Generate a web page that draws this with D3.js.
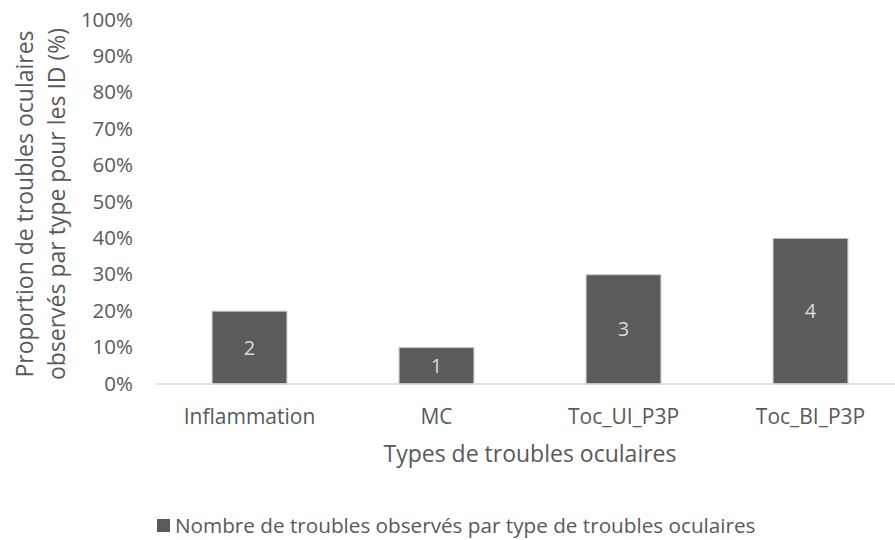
<!DOCTYPE html>
<html>
<head>
<meta charset="utf-8">
<script src="https://cdn.jsdelivr.net/npm/d3@7"></script>
<style>
  body { margin: 0; background: #fff; }
  text { font-family: "Open Sans", sans-serif; }
</style>
</head>
<body>
<div id="chart"></div>
<script>
// chart data
var categories = ["Inflammation", "MC", "Toc_UI_P3P", "Toc_BI_P3P"];
var percents = [20, 10, 30, 40];
var counts = [2, 1, 3, 4];
var yTicks = [0, 10, 20, 30, 40, 50, 60, 70, 80, 90, 100];

var w = 895, h = 540;
var plotLeft = 156, plotRight = 904, plotTop = 20, plotBottom = 384;

var svg = d3.select("#chart").append("svg")
  .attr("width", w)
  .attr("height", h);

var x = d3.scaleBand()
  .domain(categories)
  .range([plotLeft, plotRight])
  .paddingInner(0.6)
  .paddingOuter(0.3);

var y = d3.scaleLinear()
  .domain([0, 100])
  .range([plotBottom, plotTop]);

// y axis labels (no line)
var yAxis = svg.append("g")
  .attr("transform", "translate(" + (plotLeft - 23) + ",0)")
  .call(d3.axisLeft(y).tickValues(yTicks).tickSize(0).tickPadding(0)
    .tickFormat(function(d) { return d + "%"; }));
yAxis.select(".domain").remove();
yAxis.selectAll("text")
  .attr("font-size", 20.5)
  .attr("font-family", "Open Sans")
  .attr("fill", "#595959")
  .attr("dy", "0.3em");

// bars
var rows = categories.map(function(c, i) {
  return { cat: c, pct: percents[i], n: counts[i] };
});

svg.selectAll("rect.bar")
  .data(rows)
  .enter()
  .append("rect")
  .attr("class", "bar")
  .attr("x", function(d) { return x(d.cat); })
  .attr("y", function(d) { return y(d.pct); })
  .attr("width", x.bandwidth())
  .attr("height", function(d) { return y(0) - y(d.pct); })
  .attr("fill", "#5b5b5b")
  .attr("stroke", "#c4c4c4")
  .attr("stroke-width", 1);

// baseline
svg.append("line")
  .attr("x1", plotLeft).attr("x2", plotRight)
  .attr("y1", y(0)).attr("y2", y(0))
  .attr("stroke", "#d9d9d9")
  .attr("stroke-width", 1.5);

// value labels inside bars
svg.selectAll("text.val")
  .data(rows)
  .enter()
  .append("text")
  .attr("class", "val")
  .attr("x", function(d) { return x(d.cat) + x.bandwidth() / 2; })
  .attr("y", function(d) { return (y(d.pct) + y(0)) / 2; })
  .attr("dy", "0.35em")
  .attr("text-anchor", "middle")
  .attr("font-size", 20)
  .attr("fill", "#d9d9d9")
  .text(function(d) { return d.n; });

// x axis labels
var xAxis = svg.append("g")
  .attr("transform", "translate(0," + plotBottom + ")")
  .call(d3.axisBottom(x).tickSize(0).tickPadding(0));
xAxis.select(".domain").remove();
xAxis.selectAll("text")
  .attr("font-size", 21)
  .attr("font-family", "Open Sans")
  .attr("fill", "#595959")
  .attr("dy", "40px");

// axis titles
svg.append("text")
  .attr("x", (plotLeft + plotRight) / 2)
  .attr("y", 462)
  .attr("text-anchor", "middle")
  .attr("font-size", 23)
  .attr("fill", "#595959")
  .text("Types de troubles oculaires");

var yTitle = svg.append("text")
  .attr("transform", "translate(33,204) rotate(-90)")
  .attr("text-anchor", "middle")
  .attr("font-size", 23)
  .attr("fill", "#595959");
yTitle.append("tspan").attr("x", 0).attr("y", 0).text("Proportion de troubles oculaires");
yTitle.append("tspan").attr("x", 0).attr("y", 32).text("observés par type pour les ID (%)");

// legend
svg.append("rect")
  .attr("x", 157).attr("y", 519)
  .attr("width", 13).attr("height", 13)
  .attr("fill", "#5b5b5b");
svg.append("text")
  .attr("x", 175)
  .attr("y", 533)
  .attr("font-size", 20.7)
  .attr("fill", "#595959")
  .text("Nombre de troubles observés par type de troubles oculaires");
</script>
</body>
</html>
